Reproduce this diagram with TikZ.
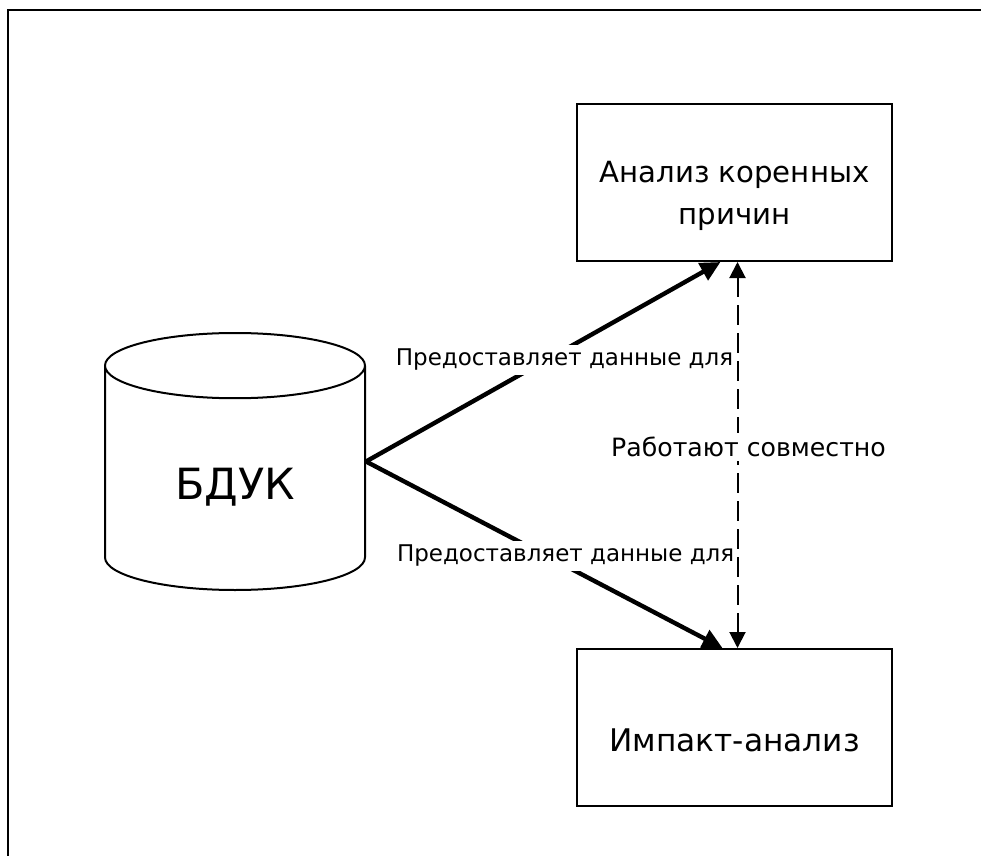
\documentclass[tikz,border=0pt]{standalone}
\usepackage{fontspec}
\setmainfont{DejaVu Sans}
\usetikzlibrary{arrows.meta,shapes.geometric}

\begin{document}
\begin{tikzpicture}[x=0.5pt,y=-0.5pt]
\tikzstyle{box}=[draw, line width=1pt, minimum width=157.5pt, minimum height=78.5pt, align=center, text depth=0pt]
\tikzstyle{feed}=[line width=2.2pt, -{Triangle[length=10pt,width=9.5pt]}]
\tikzstyle{both}=[line width=1pt, dash pattern=on 10pt off 4pt, {Triangle[length=8pt,width=8pt]}-{Triangle[length=8pt,width=8pt]}]
\tikzstyle{lbl}=[fill=white, inner sep=2pt, font=\fontsize{11.5}{13}\selectfont]
\useasboundingbox (0,0) rectangle (981,856);
	% frame
	\draw[line width=1.2pt] (8,856) -- (8,10) -- (981,10);

	\node[draw, line width=1pt, cylinder, shape border rotate=90, aspect=0.49, minimum width=130pt, minimum height=128.5pt, text height=16pt, text depth=0pt, anchor=shape center, font=\fontsize{21.5}{25}\selectfont] (db) at (235,461.5) {БДУК};
	\node[box, text height=41.6pt, font=\fontsize{14.6}{21}\selectfont] (rca) at (734.5,182.5) {Анализ коренных\\причин};
	\node[box, text height=23.6pt, font=\fontsize{15.6}{19}\selectfont] (imp) at (734.5,727.5) {Импакт-анализ};

	\draw[feed] (db.shape center -| db.east) -- ([xshift=-7pt]rca.south) node[lbl, pos=0.56, yshift=-5pt] {Предоставляет данные для};
	\draw[feed] (db.shape center -| db.east) -- ([xshift=-6pt]imp.north) node[lbl, pos=0.56, yshift=5pt] {Предоставляет данные для};
	\draw[both] ([xshift=1.5pt]imp.north) -- ([xshift=1.5pt]rca.south) node[lbl, pos=0.5, xshift=5.5pt, yshift=4pt, font=\fontsize{12.6}{15}\selectfont] {Работают совместно};

\end{tikzpicture}
\end{document}
